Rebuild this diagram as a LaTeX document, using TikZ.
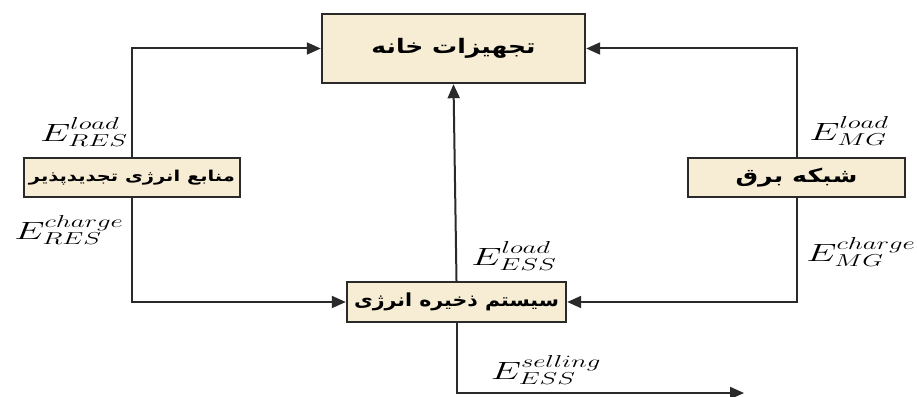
\documentclass[tikz,border=0pt]{standalone}
\usepackage{fontspec}
\usepackage{graphicx}
\usetikzlibrary{arrows.meta}
\TeXXeTstate=1
\newfontfamily\arabicfont[Script=Arabic]{DejaVu Sans}
\definecolor{boxfill}{HTML}{F6EDD4}
\definecolor{linecol}{HTML}{2A2A2A}
\tikzset{
  blk/.style={draw=linecol, line width=2.4pt, fill=boxfill, inner sep=0pt},
  arr/.style={draw=linecol, line width=2pt, -{Triangle[length=14pt,width=12pt]}},
  lbl/.style={inner sep=0pt, font=\fontsize{23}{27}\selectfont}
}
\newcommand{\fatext}[3]{\scalebox{#2}[1]{\arabicfont\bfseries\fontsize{#1}{#1}\selectfont #3}}
\newcommand{\elabel}[1]{\scalebox{1.55}[1]{$#1$}}
\begin{document}
\begin{tikzpicture}[x=1pt,y=-1pt]
\useasboundingbox (0,0) rectangle (917,396);
\node[blk, minimum width=263pt, minimum height=69pt] (top) at (453.5,48.5) {\fatext{20}{1.25}{\beginR تجهیزات خانه\endR}};
\node[blk, minimum width=216pt, minimum height=39pt] (res) at (132,177.5) {\fatext{15}{1.3}{\beginR منابع انرژی تجدیدپذیر\endR}};
\node[blk, minimum width=217pt, minimum height=39pt] (mg) at (796.5,177.5) {\fatext{19}{1.33}{\beginR شبکه برق\endR}};
\node[blk, minimum width=219pt, minimum height=40pt] (ess) at (456.5,302) {\fatext{18}{1.14}{\beginR سیستم ذخیره انرژی\endR}};
\coordinate (sellend) at (744,393);
\draw[arr] (res.north) |- (top.west);
\draw[arr] (res.south) |- (ess.west);
\draw[arr] (mg.north) |- (top.east);
\draw[arr] (mg.south) |- (ess.east);
\draw[arr] (ess.north) -- (top.south);
\draw[arr] (ess.south) |- (sellend);
\node[lbl] (l1) at (84,132) {\elabel{E^{load\vphantom{g}}_{RES}}};
\node[lbl] (l2) at (69,230) {\elabel{E^{charge}_{RES}}};
\node[lbl] (l3) at (849,131) {\elabel{E^{load\vphantom{g}}_{MG}}};
\node[lbl] (l4) at (861,252) {\elabel{E^{charge}_{MG}}};
\node[lbl] (l5) at (514,256) {\elabel{E^{load\vphantom{g}}_{ESS}}};
\node[lbl] (l6) at (546,370) {\elabel{E^{selling}_{ESS}}};
\end{tikzpicture}
\end{document}
